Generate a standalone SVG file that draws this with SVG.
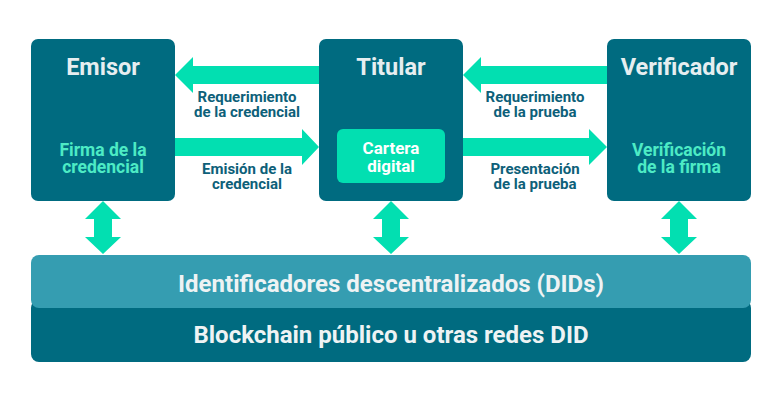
<svg xmlns="http://www.w3.org/2000/svg" width="782" height="402" viewBox="0 0 782 402">
<style>
text{font-family:Roboto,"Liberation Sans",sans-serif;font-weight:bold;text-anchor:middle}
.box{fill:#006b80}
.title{font-size:23.5px;fill:#e6eef0}
.sub{font-size:17.5px;fill:#4debc5}
.lbl{font-size:15px;fill:#0d6079}
.arr{fill:#02dfb1}
.band{font-size:24px;fill:#eef3f4}
</style>
<rect width="782" height="402" fill="#ffffff"/>
<g id="connectors">
<polygon class="arr" points="175,75 193,57 193,66 319,66 319,84 193,84 193,93"/>
<polygon class="arr" points="319,147 302,129 302,138 175,138 175,156 302,156 302,165"/>
<polygon class="arr" points="463,75 481,57 481,66 607,66 607,84 481,84 481,93"/>
<polygon class="arr" points="607,147 589,129 589,138 463,138 463,156 589,156 589,165"/>
<polygon class="arr" points="103,201 121,219 112,219 112,237 121,237 103,254 85,237 94,237 94,219 85,219"/>
<polygon class="arr" points="391,201 409,219 400,219 400,237 409,237 391,254 373,237 382,237 382,219 373,219"/>
<polygon class="arr" points="679,201 697,219 688,219 688,237 697,237 679,254 661,237 670,237 670,219 661,219"/>
<text class="lbl" x="247" y="102">Requerimiento</text>
<text class="lbl" x="247" y="117">de la credencial</text>
<text class="lbl" x="247" y="174">Emisión de la</text>
<text class="lbl" x="247" y="189">credencial</text>
<text class="lbl" x="535" y="102">Requerimiento</text>
<text class="lbl" x="535" y="117">de la prueba</text>
<text class="lbl" x="535" y="174">Presentación</text>
<text class="lbl" x="535" y="189">de la prueba</text>
</g>
<g id="emisor">
<rect class="box" x="31" y="39" width="144" height="162" rx="7"/>
<text class="title" x="103" y="75">Emisor</text>
<text class="sub" x="103" y="156">Firma de la</text>
<text class="sub" x="103" y="173">credencial</text>
</g>
<g id="titular">
<rect class="box" x="319" y="39" width="144" height="162" rx="7"/>
<text class="title" x="391" y="75">Titular</text>
<rect x="337" y="129" width="108" height="54" rx="6" fill="#02dfb1"/>
<text x="391" y="154" style="font-size:17px;fill:#ffffff">Cartera</text>
<text x="391" y="172" style="font-size:17px;fill:#ffffff">digital</text>
</g>
<g id="verificador">
<rect class="box" x="607" y="39" width="144" height="162" rx="7"/>
<text class="title" x="679" y="75">Verificador</text>
<text class="sub" x="679" y="156">Verificación</text>
<text class="sub" x="679" y="173">de la firma</text>
</g>
<g id="blockchain">
<rect class="box" x="31" y="300" width="720" height="62" rx="8"/>
<text class="band" x="391" y="343">Blockchain público u otras redes DID</text>
</g>
<g id="dids">
<rect x="31" y="255" width="720" height="53" rx="8" fill="#359db1"/>
<text class="band" x="391" y="292">Identificadores descentralizados (DIDs)</text>
</g>
</svg>
